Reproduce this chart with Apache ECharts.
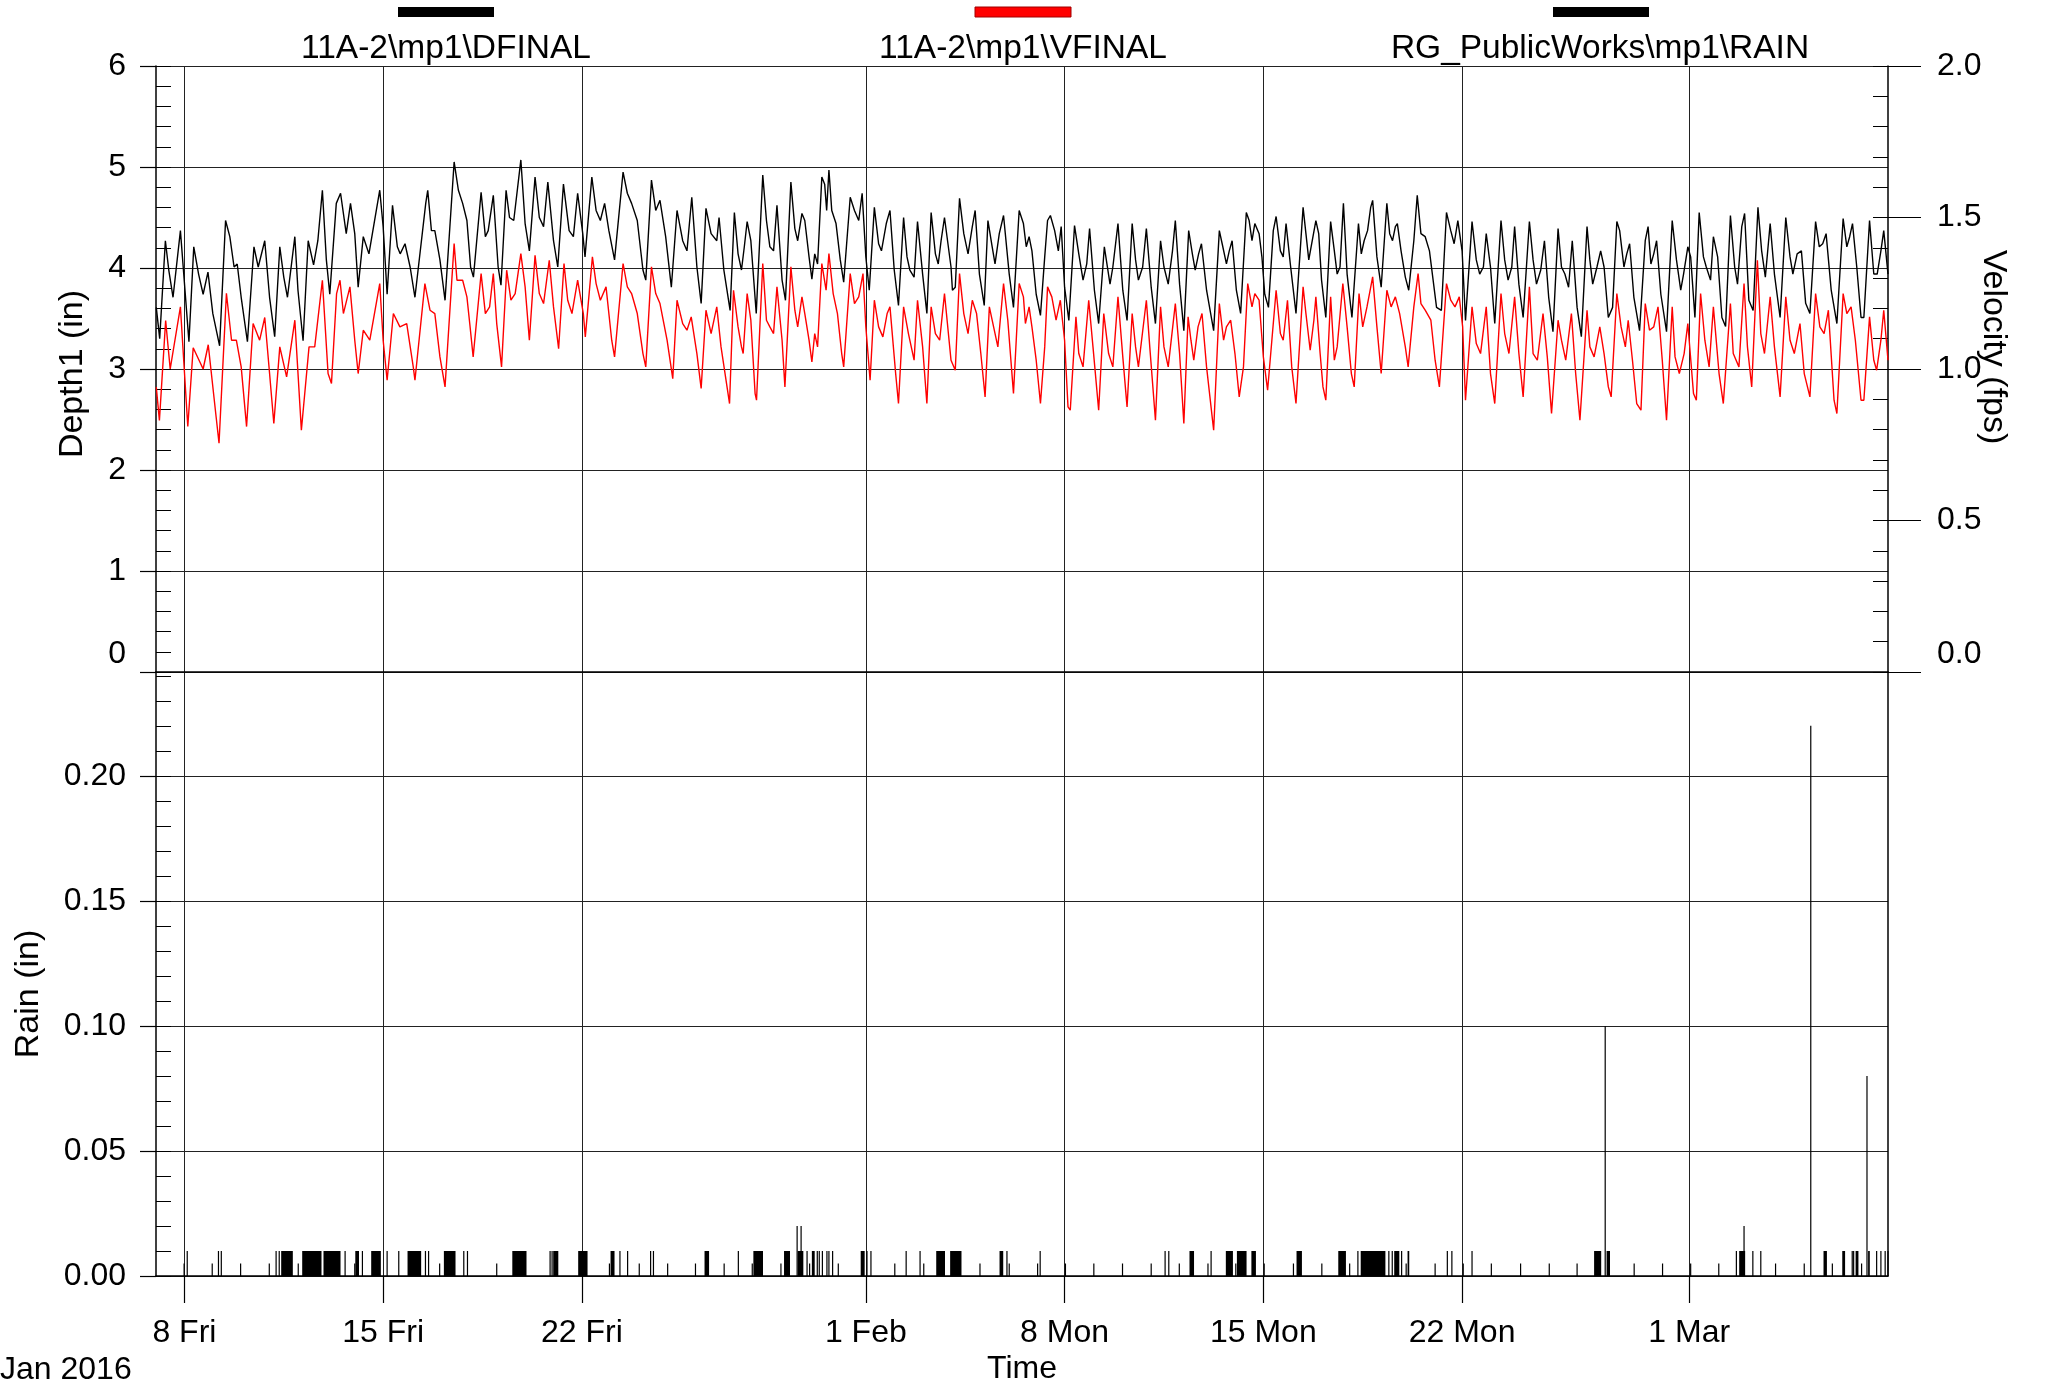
<!DOCTYPE html>
<html>
<head>
<meta charset="utf-8">
<script src="https://cdn.jsdelivr.net/npm/echarts@6/dist/echarts.min.js"></script>
<style>
  html, body { margin: 0; padding: 0; background: #fff; }
  #chart { width: 2049px; height: 1387px; }
</style>
</head>
<body>
<div id="chart"></div>
<script>
// x values are days counted from Jan 7 2016 00:00
const tickDays = [1, 8, 15, 25, 32, 39, 46, 54];
const tickLabels = ['8 Fri', '15 Fri', '22 Fri', '1 Feb', '8 Mon', '15 Mon', '22 Mon', '1 Mar'];

// 11A-2\mp1\DFINAL  [day, depth in]
const depthReadings = [
  [0.01,3.61],[0.13,3.30],[0.33,4.27],[0.45,3.98],[0.6,3.71],[0.86,4.37],[1.16,3.27],[1.33,4.21],[1.5,3.94],[1.66,3.74],
  [1.83,3.96],[2.0,3.55],[2.24,3.23],[2.45,4.47],[2.6,4.31],[2.75,4.01],[2.86,4.04],[3.0,3.71],[3.22,3.27],[3.45,4.21],
  [3.6,4.01],[3.83,4.27],[4.0,3.71],[4.18,3.32],[4.36,4.21],[4.5,3.91],[4.63,3.71],[4.89,4.31],[5.0,3.78],[5.18,3.28],
  [5.36,4.27],[5.55,4.03],[5.7,4.27],[5.86,4.77],[6.0,4.08],[6.12,3.74],[6.35,4.64],[6.5,4.74],[6.7,4.34],[6.85,4.64],
  [7.0,4.34],[7.12,3.81],[7.3,4.31],[7.5,4.14],[7.88,4.77],[8.0,4.41],[8.14,3.74],[8.33,4.62],[8.5,4.21],[8.6,4.14],
  [8.77,4.24],[8.95,4.01],[9.12,3.71],[9.5,4.64],[9.57,4.77],[9.7,4.37],[9.82,4.37],[10.0,4.08],[10.18,3.68],
  [10.5,5.05],[10.65,4.77],[10.8,4.64],[10.95,4.47],[11.08,4.01],[11.18,3.91],[11.45,4.75],[11.6,4.31],[11.7,4.37],[11.88,4.72],
  [12.05,4.01],[12.15,3.83],[12.33,4.77],[12.45,4.5],[12.6,4.47],[12.85,5.07],[13.0,4.44],[13.15,4.17],[13.35,4.9],[13.5,4.5],
  [13.65,4.41],[13.8,4.85],[14.0,4.27],[14.15,4.01],[14.35,4.83],[14.55,4.37],[14.7,4.31],[14.85,4.74],[15.03,4.34],[15.11,4.11],
  [15.35,4.9],[15.5,4.57],[15.65,4.47],[15.8,4.64],[15.95,4.37],[16.15,4.08],[16.45,4.95],[16.6,4.74],[16.75,4.64],[16.95,4.47],
  [17.15,3.98],[17.25,3.88],[17.45,4.87],[17.6,4.57],[17.75,4.67],[17.95,4.31],[18.15,3.81],[18.35,4.57],[18.55,4.27],[18.7,4.17],
  [18.87,4.7],[19.05,4.01],[19.2,3.65],[19.37,4.59],[19.55,4.34],[19.75,4.27],[19.83,4.5],[20.0,3.98],
  [20.22,3.58],[20.37,4.55],[20.5,4.14],[20.62,3.98],[20.72,4.21],[20.82,4.46],[20.95,4.27],[21.14,3.55],[21.37,4.92],[21.5,4.47],
  [21.62,4.21],[21.75,4.17],[21.87,4.62],[22.05,3.88],[22.17,3.68],[22.36,4.85],[22.5,4.39],[22.6,4.27],[22.75,4.54],[22.85,4.47],
  [23.0,4.11],[23.1,3.89],[23.2,4.14],[23.3,4.04],[23.45,4.9],[23.55,4.83],[23.62,4.57],[23.7,4.97],[23.8,4.57],[23.95,4.44],
  [24.1,4.08],[24.22,3.86],[24.45,4.7],[24.6,4.57],[24.75,4.47],[24.87,4.74],[25.0,4.11],[25.12,3.78],[25.3,4.6],[25.45,4.24],
  [25.55,4.17],[25.72,4.44],[25.85,4.57],[26.0,3.98],[26.15,3.63],[26.33,4.5],[26.45,4.11],[26.55,3.98],[26.7,3.91],[26.82,4.46],
  [27.0,3.94],[27.15,3.55],[27.3,4.55],[27.45,4.14],[27.55,4.04],[27.65,4.27],[27.77,4.5],[28.0,4.01],[28.05,3.78],[28.15,3.81],
  [28.3,4.69],[28.45,4.34],[28.6,4.14],[28.75,4.41],[28.85,4.57],[29.0,3.94],[29.17,3.63],[29.3,4.47],[29.45,4.21],[29.55,4.04],
  [29.7,4.34],[29.85,4.52],[30.05,3.94],[30.2,3.61],[30.4,4.57],
  [30.55,4.44],[30.65,4.21],[30.75,4.31],[30.85,4.17],[31.0,3.74],[31.15,3.53],[31.3,4.11],[31.4,4.47],[31.5,4.52],[31.65,4.37],
  [31.78,4.17],[31.88,4.41],[32.0,3.81],[32.15,3.48],[32.35,4.42],[32.5,4.14],[32.65,3.88],[32.78,4.04],[32.88,4.39],[33.05,3.78],
  [33.2,3.45],[33.4,4.21],[33.6,3.84],[33.7,4.01],[33.88,4.44],[34.05,3.78],[34.2,3.48],[34.38,4.44],[34.5,4.08],[34.6,3.88],
  [34.75,4.01],[34.88,4.39],[35.05,3.81],[35.2,3.45],[35.38,4.27],[35.5,4.01],[35.65,3.84],[35.8,4.17],[35.9,4.47],[36.05,3.84],
  [36.2,3.38],[36.37,4.37],[36.5,4.14],[36.6,3.98],[36.72,4.14],[36.82,4.24],[37.0,3.78],[37.25,3.38],[37.45,4.37],[37.55,4.24],
  [37.7,4.04],[37.8,4.17],[37.9,4.27],[38.05,3.78],[38.2,3.55],[38.4,4.55],[38.5,4.47],[38.6,4.27],[38.7,4.44],[38.85,4.34],
  [38.95,4.11],[39.05,3.74],[39.18,3.61],[39.35,4.37],[39.45,4.51],[39.6,4.17],[39.7,4.11],[39.8,4.44],[39.95,4.04],[40.15,3.55],
  [40.4,4.6],[40.5,4.34],[40.6,4.08],
  [40.85,4.47],[40.95,4.34],[41.05,3.88],[41.2,3.51],[41.37,4.46],[41.5,4.17],[41.6,3.94],[41.7,4.01],[41.82,4.64],[41.95,3.94],
  [42.12,3.51],[42.35,4.44],[42.45,4.14],[42.55,4.27],[42.67,4.37],[42.78,4.6],[42.85,4.67],[43.0,4.11],[43.15,3.81],[43.35,4.64],
  [43.45,4.34],[43.55,4.27],[43.65,4.41],[43.72,4.44],[43.85,4.17],[44.0,3.91],[44.12,3.78],[44.3,4.27],[44.42,4.72],[44.55,4.34],
  [44.7,4.31],[44.85,4.17],[45.1,3.61],[45.27,3.58],[45.45,4.55],[45.6,4.37],[45.72,4.24],[45.85,4.47],[46.0,4.17],[46.12,3.48],
  [46.35,4.46],[46.5,4.08],[46.62,3.94],[46.75,4.01],[46.85,4.34],[47.0,4.01],[47.15,3.45],[47.37,4.47],[47.5,4.08],[47.62,3.88],
  [47.75,4.01],[47.85,4.41],[48.0,3.84],[48.15,3.51],[48.37,4.46],[48.5,4.08],[48.62,3.84],[48.77,3.98],[48.9,4.27],[49.05,3.71],
  [49.2,3.37],[49.38,4.39],[49.5,4.01],[49.62,3.94],[49.75,3.81],[49.88,4.27],[50.05,3.61],[50.2,3.32],[50.4,4.41],[50.5,4.08],
  [50.6,3.84],[50.75,4.01],[50.88,4.17],
  [51.0,4.01],[51.15,3.51],[51.3,3.61],[51.45,4.46],[51.55,4.37],[51.7,4.01],[51.8,4.14],[51.9,4.24],[52.05,3.71],[52.25,3.38],
  [52.45,4.27],[52.55,4.41],[52.65,4.04],[52.75,4.14],[52.85,4.27],[53.0,3.74],[53.2,3.37],[53.4,4.47],[53.55,4.08],[53.7,3.78],
  [53.8,3.94],[53.95,4.21],[54.05,4.11],[54.2,3.51],[54.35,4.55],[54.5,4.11],[54.6,4.01],[54.75,3.88],[54.85,4.31],[55.0,4.11],
  [55.15,3.51],[55.28,3.42],[55.45,4.52],[55.6,4.01],[55.7,3.84],[55.85,4.41],[55.95,4.54],[56.1,3.68],[56.25,3.58],[56.42,4.6],
  [56.55,4.17],[56.68,3.91],[56.85,4.44],[57.0,3.94],[57.2,3.51],[57.4,4.5],[57.55,4.11],[57.65,3.94],[57.8,4.14],[57.95,4.17],
  [58.1,3.65],[58.25,3.55],[58.45,4.46],[58.58,4.21],[58.7,4.24],[58.82,4.34],[59.0,3.78],[59.2,3.45],[59.42,4.49],[59.55,4.21],
  [59.65,4.31],[59.75,4.44],[59.9,4.01],[60.05,3.51],[60.15,3.51],[60.35,4.47],[60.5,3.94],[60.62,3.94],[60.75,4.17],[60.85,4.37],
  [61.0,3.94]
];

// 11A-2\mp1\VFINAL  [day, velocity fps]
const velocityReadings = [
  [0.01,0.94],[0.12,0.83],[0.34,1.16],[0.5,1.0],[0.86,1.205],[1.12,0.81],[1.31,1.07],[1.66,1.0],[1.84,1.08],[2.12,0.84],
  [2.22,0.755],[2.48,1.25],[2.66,1.095],[2.83,1.095],[3.0,1.007],[3.19,0.81],[3.42,1.15],[3.65,1.095],[3.83,1.17],[4.0,0.985],
  [4.15,0.82],[4.36,1.073],[4.6,0.974],[4.89,1.161],[5.12,0.798],[5.39,1.073],[5.59,1.073],[5.86,1.293],[6.06,0.985],[6.18,0.952],
  [6.36,1.249],[6.48,1.293],[6.6,1.183],[6.83,1.271],[7.0,1.095],[7.12,0.985],[7.3,1.128],[7.53,1.095],[7.88,1.282],[8.0,1.095],
  [8.14,0.963],[8.36,1.183],[8.59,1.139],[8.83,1.15],[9.06,1.007],[9.12,0.963],[9.47,1.282],[9.65,1.194],[9.82,1.183],[10.0,1.04],
  [10.18,0.941],
  [10.5,1.414],[10.6,1.293],[10.8,1.293],[10.95,1.238],[11.05,1.15],[11.17,1.04],[11.45,1.315],[11.6,1.183],[11.75,1.205],[11.88,1.315],
  [12.0,1.15],[12.17,1.007],[12.35,1.326],[12.5,1.227],[12.65,1.249],[12.85,1.381],[13.0,1.271],[13.15,1.095],[13.35,1.375],[13.5,1.249],
  [13.65,1.216],[13.85,1.359],[14.0,1.205],[14.18,1.067],[14.37,1.348],[14.5,1.227],[14.65,1.183],[14.85,1.293],[15.05,1.183],[15.12,1.106],
  [15.37,1.37],[15.5,1.282],[15.65,1.227],[15.85,1.271],[16.05,1.095],[16.15,1.04],[16.45,1.348],[16.6,1.271],[16.75,1.249],[16.95,1.183],
  [17.15,1.051],[17.25,1.007],[17.45,1.337],[17.6,1.249],[17.75,1.216],[18.0,1.095],[18.2,0.968],[18.35,1.227],[18.55,1.15],[18.7,1.128],
  [18.85,1.172],[19.05,1.051],[19.2,0.936],[19.37,1.194],[19.55,1.117],[19.75,1.205],[19.9,1.073],[20.2,0.886],
  [20.34,1.26],[20.5,1.139],[20.62,1.073],[20.68,1.051],[20.82,1.249],[20.95,1.161],[21.1,0.919],[21.15,0.897],[21.37,1.348],[21.5,1.161],
  [21.62,1.139],[21.75,1.117],[21.87,1.271],[22.05,1.095],[22.15,0.941],[22.36,1.337],[22.5,1.194],[22.6,1.139],[22.75,1.238],[22.85,1.183],
  [23.0,1.095],[23.1,1.023],[23.2,1.117],[23.3,1.073],[23.45,1.348],[23.6,1.26],[23.7,1.381],[23.85,1.249],[24.0,1.183],[24.15,1.051],
  [24.22,1.007],[24.45,1.315],[24.6,1.216],[24.75,1.238],[24.9,1.315],[25.0,1.139],[25.15,0.963],[25.3,1.227],[25.45,1.139],[25.6,1.106],
  [25.75,1.183],[25.85,1.205],[26.05,0.985],[26.15,0.886],[26.33,1.205],[26.5,1.117],[26.7,1.029],[26.82,1.227],[27.0,1.073],[27.15,0.886],
  [27.3,1.205],[27.45,1.117],[27.6,1.095],[27.77,1.249],[28.0,1.029],[28.15,0.996],[28.3,1.315],[28.45,1.183],[28.6,1.117],[28.75,1.227],
  [28.9,1.183],[29.05,1.051],[29.2,0.908],[29.35,1.205],[29.5,1.139],[29.65,1.073],[29.85,1.282],[30.0,1.161],[30.2,0.919],[30.4,1.282],
  [30.55,1.238],[30.62,1.15],[30.75,1.205],[30.85,1.139],[31.0,1.029],[31.15,0.886],[31.3,1.073],[31.4,1.271],[31.55,1.238],[31.7,1.161],
  [31.85,1.227],[32.0,1.095],[32.12,0.875],[32.2,0.864],[32.4,1.172],[32.5,1.051],[32.65,1.007],[32.85,1.227],[33.0,1.073],[33.2,0.864],
  [33.38,1.183],[33.55,1.051],[33.7,1.007],[33.88,1.238],[34.05,1.04],[34.2,0.875],[34.38,1.183],[34.5,1.073],[34.6,1.007],[34.88,1.227],
  [35.0,1.073],[35.2,0.831],[35.38,1.205],[35.5,1.073],[35.65,1.007],[35.9,1.216],[36.05,1.051],[36.2,0.82],[36.35,1.172],[36.45,1.095],
  [36.55,1.029],[36.7,1.139],[36.84,1.183],[37.0,1.007],[37.25,0.798],[37.45,1.216],[37.6,1.095],[37.7,1.139],[37.85,1.161],[38.0,1.051],
  [38.15,0.908],[38.3,1.007],[38.45,1.282],[38.6,1.205],[38.7,1.249],[38.85,1.227],[39.0,1.04],[39.15,0.93],[39.3,1.095],[39.45,1.26],
  [39.6,1.117],[39.7,1.095],[39.85,1.227],[40.0,1.007],[40.15,0.886],[40.4,1.271],[40.5,1.183],[40.65,1.062],
  [40.78,1.161],[40.85,1.238],[41.0,1.051],[41.1,0.941],[41.2,0.897],[41.37,1.238],[41.5,1.029],[41.6,1.073],[41.8,1.282],[41.95,1.139],
  [42.1,0.985],[42.2,0.941],[42.37,1.249],[42.5,1.139],[42.65,1.205],[42.85,1.304],[43.0,1.139],[43.15,0.985],[43.35,1.26],[43.5,1.205],
  [43.65,1.238],[43.8,1.183],[44.0,1.073],[44.1,1.007],[44.3,1.205],[44.45,1.315],[44.55,1.216],[44.7,1.194],[44.9,1.161],[45.05,1.029],
  [45.2,0.941],[45.45,1.282],[45.6,1.227],[45.75,1.205],[45.9,1.238],[46.02,1.139],[46.12,0.897],[46.35,1.205],[46.5,1.084],[46.65,1.051],
  [46.85,1.205],[47.0,0.985],[47.15,0.886],[47.37,1.249],[47.5,1.117],[47.65,1.051],[47.85,1.238],[48.0,1.051],[48.15,0.908],[48.37,1.271],
  [48.5,1.051],[48.65,1.029],[48.85,1.183],[49.0,1.04],[49.15,0.853],[49.38,1.161],[49.5,1.095],[49.65,1.029],[49.85,1.183],[50.0,0.985],
  [50.15,0.831],[50.4,1.194],[50.5,1.073],[50.65,1.04],[50.85,1.139],
  [51.0,1.051],[51.15,0.941],[51.25,0.908],[51.45,1.249],[51.6,1.139],[51.75,1.073],[51.85,1.161],[52.0,1.029],[52.15,0.886],[52.3,0.864],
  [52.45,1.216],[52.6,1.128],[52.75,1.139],[52.9,1.205],[53.05,1.029],[53.2,0.831],[53.4,1.205],[53.5,1.04],[53.65,0.985],[53.82,1.051],
  [53.95,1.15],[54.15,0.919],[54.25,0.897],[54.4,1.249],[54.55,1.095],[54.7,1.007],[54.85,1.205],[55.05,0.985],[55.2,0.886],[55.45,1.216],
  [55.55,1.051],[55.75,1.007],[55.93,1.282],[56.05,1.073],[56.2,0.941],[56.4,1.359],[56.52,1.117],[56.65,1.051],[56.85,1.238],[57.0,1.073],
  [57.2,0.908],[57.4,1.238],[57.55,1.095],[57.7,1.051],[57.9,1.15],[58.05,0.985],[58.25,0.908],[58.45,1.249],[58.6,1.139],[58.75,1.117],
  [58.9,1.194],[59.1,0.897],[59.2,0.853],[59.42,1.249],[59.55,1.183],[59.7,1.205],[59.85,1.095],[60.05,0.897],[60.15,0.897],[60.35,1.172],
  [60.5,1.029],[60.6,0.996],[60.75,1.095],[60.85,1.194],[61.0,1.029]
];

// RG_PublicWorks\mp1\RAIN  [start day, end day, inches]
const rainEvents = [
  [0.99,0.99,0.005],[1.10,1.10,0.01],[1.98,1.98,0.005],[2.2,2.2,0.01],[2.3,2.3,0.01],[2.98,2.98,0.005],[3.99,3.99,0.005],
  [4.23,4.23,0.01],[4.34,4.34,0.01],[4.43,4.84,0.01],[5.01,5.01,0.005],[5.17,5.85,0.01],[5.92,6.52,0.01],[6.66,6.66,0.01],
  [7.0,7.0,0.005],[7.04,7.17,0.01],[7.27,7.27,0.01],[7.6,7.94,0.01],[8.14,8.14,0.01],[8.55,8.55,0.01],[8.88,9.36,0.01],
  [9.49,9.49,0.01],[9.6,9.6,0.01],[9.99,9.99,0.005],[10.16,10.57,0.01],[10.84,10.84,0.01],[10.97,10.97,0.01],[12.0,12.0,0.005],
  [12.57,13.07,0.01],[13.88,13.88,0.01],[13.95,13.95,0.01],[14.01,14.19,0.01],[14.89,15.22,0.01],[15.97,15.97,0.005],
  [16.03,16.17,0.01],[16.34,16.34,0.01],[16.61,16.61,0.01],[17.02,17.02,0.005],[17.42,17.42,0.01],[17.52,17.52,0.01],
  [18.02,18.02,0.005],[19.0,19.0,0.005],[19.34,19.5,0.01],[20.01,20.01,0.005],[20.51,20.51,0.01],
  [21.0,21.0,0.005],[21.06,21.4,0.01],[22.01,22.01,0.005],[22.14,22.35,0.01],[22.58,22.58,0.02],[22.62,22.82,0.01],
  [22.72,22.72,0.02],[22.93,22.93,0.01],[23.02,23.02,0.005],[23.12,23.22,0.01],[23.29,23.29,0.01],[23.36,23.36,0.01],
  [23.47,23.47,0.01],[23.63,23.63,0.01],[23.7,23.7,0.01],[23.83,23.83,0.01],[24.03,24.03,0.005],[24.84,24.98,0.01],
  [25.04,25.04,0.01],[25.18,25.18,0.01],[26.02,26.02,0.005],[26.42,26.42,0.01],[26.91,26.91,0.01],[27.04,27.04,0.005],
  [27.5,27.81,0.01],[27.99,28.39,0.01],[29.02,29.02,0.005],[29.73,29.86,0.01],[29.97,29.97,0.01],[30.05,30.05,0.005],
  [31.05,31.05,0.005],[31.14,31.14,0.01],[32.03,32.03,0.005],[33.03,33.03,0.005],[34.04,34.04,0.005],[35.05,35.05,0.005],
  [35.54,35.54,0.01],[35.67,35.67,0.01],[36.04,36.04,0.005],[36.42,36.58,0.01],[37.05,37.05,0.005],[37.16,37.16,0.01],
  [37.7,37.95,0.01],[38.03,38.03,0.005],[38.09,38.43,0.01],[38.6,38.76,0.01],[39.03,39.03,0.005],[40.06,40.06,0.005],
  [40.19,40.38,0.01],[41.06,41.06,0.005],[41.66,41.93,0.01],[42.04,42.04,0.005],
  [42.33,42.33,0.01],[42.45,43.32,0.01],[43.42,43.42,0.01],[43.54,43.54,0.01],[43.63,43.81,0.01],[43.87,43.87,0.01],
  [44.03,44.03,0.005],[44.1,44.16,0.01],[45.05,45.05,0.005],[45.48,45.48,0.01],[45.64,45.64,0.01],[46.04,46.04,0.005],
  [46.35,46.35,0.01],[47.03,47.03,0.005],[48.06,48.06,0.005],[49.07,49.07,0.005],[50.05,50.05,0.005],[50.67,50.92,0.01],
  [51.04,51.04,0.10],[51.11,51.23,0.01],[52.06,52.06,0.005],[53.06,53.06,0.005],[54.05,54.05,0.005],[55.04,55.04,0.005],
  [55.66,55.66,0.01],[55.78,55.99,0.01],[55.93,55.93,0.02],[56.24,56.24,0.01],[56.52,56.52,0.01],[57.04,57.04,0.005],
  [58.05,58.05,0.005],[58.28,58.28,0.22],[58.75,58.87,0.01],[59.04,59.04,0.005],[59.41,59.51,0.01],[59.74,59.74,0.01],
  [59.79,59.79,0.01],[59.88,59.98,0.01],[60.07,60.07,0.005],[60.26,60.26,0.08],[60.32,60.38,0.01],[60.6,60.6,0.01],
  [60.75,60.75,0.01],[60.9,60.9,0.01],[61.0,61.0,0.01]
];

const FONT = '"Liberation Sans", Arial, sans-serif';
const RAIN_MAX = 0.2415;

const chart = echarts.init(document.getElementById('chart'), null, {renderer: 'canvas'});

function tickLabel(val) {
    const i = tickDays.findIndex(d => Math.abs(d - val) < 1e-6);
    return i >= 0 ? tickLabels[i] : '';
}

function dayAxis(gridIndex, withLabels) {
    return {
        type: 'value',
        gridIndex: gridIndex,
        min: 0,
        max: 61,
        name: withLabels ? 'Time' : '',
        nameLocation: 'middle',
        nameGap: 77,
        nameMoveOverlap: false,
        nameTextStyle: {fontSize: 32, color: '#000', fontFamily: FONT},
        axisLine: {onZero: false, lineStyle: {color: '#000', width: 1.5}},
        axisTick: {show: withLabels, customValues: tickDays, length: 27, lineStyle: {color: '#000', width: 1.2}},
        axisLabel: {show: withLabels, customValues: tickDays, formatter: tickLabel, margin: 41,
            fontSize: 32, color: '#000', fontFamily: FONT},
        splitLine: {show: true, lineStyle: {color: '#222', width: 1}}
    };
}

// inner (minor) tick axis, no labels
function innerTicks(gridIndex, position, max, interval) {
    return {
        type: 'value', gridIndex: gridIndex, position: position, min: 0, max: max, interval: interval,
        axisLine: {show: false},
        axisTick: {show: true, inside: true, length: 15, lineStyle: {color: '#000', width: 1}},
        axisLabel: {show: false},
        splitLine: {show: false}
    };
}

const labelStyle = {fontSize: 32, color: '#000', fontFamily: FONT};
const lowLabel = {lo: {padding: [0, 0, 36, 0], fontSize: 32, color: '#000', fontFamily: FONT}};
const titleStyle = {fontSize: 34, color: '#000', fontFamily: FONT};

const option = {
    animation: false,
    backgroundColor: '#fff',
    textStyle: {fontFamily: FONT},
    grid: [
        {left: 156, right: 161, top: 66, height: 606},
        {left: 156, right: 161, top: 672, height: 604}
    ],
    xAxis: [dayAxis(0, false), dayAxis(1, true)],
    yAxis: [
        {
            type: 'value', gridIndex: 0, position: 'left', min: 0, max: 6, interval: 1,
            name: 'Depth1 (in)', nameLocation: 'middle', nameGap: 66, nameRotate: 90, nameMoveOverlap: false,
            nameTextStyle: Object.assign({padding: [0, 10, 0, 0]}, titleStyle),
            axisLine: {show: true, lineStyle: {color: '#000', width: 1.5}},
            axisTick: {show: true, inside: false, length: 16, lineStyle: {color: '#000', width: 1.2}},
            axisLabel: Object.assign({margin: 30, rich: lowLabel,
                formatter: v => v === 0 ? '{lo|0}' : String(v)}, labelStyle),
            splitLine: {show: true, lineStyle: {color: '#222', width: 1}}
        },
        {
            type: 'value', gridIndex: 0, position: 'right', min: 0, max: 2, interval: 0.5,
            name: 'Velocity (fps)', nameLocation: 'middle', nameGap: 88, nameRotate: -90, nameMoveOverlap: false,
            nameTextStyle: Object.assign({padding: [0, 44, 0, 0]}, titleStyle),
            axisLine: {show: true, lineStyle: {color: '#000', width: 1.5}},
            axisTick: {show: true, inside: false, length: 33, lineStyle: {color: '#000', width: 1.2}},
            axisLabel: Object.assign({margin: 49, rich: lowLabel,
                formatter: v => v === 0 ? '{lo|0.0}' : v.toFixed(1)}, labelStyle),
            splitLine: {show: false}
        },
        innerTicks(0, 'left', 6, 0.2),
        innerTicks(0, 'right', 2, 0.1),
        {
            type: 'value', gridIndex: 1, position: 'left', min: 0, max: RAIN_MAX, interval: 0.05,
            name: 'Rain (in)', nameLocation: 'middle', nameGap: 110, nameRotate: 90, nameMoveOverlap: false,
            nameTextStyle: Object.assign({padding: [0, 40, 0, 0]}, titleStyle),
            axisLine: {show: true, lineStyle: {color: '#000', width: 1.5}},
            axisTick: {show: true, inside: false, length: 16, lineStyle: {color: '#000', width: 1.2}},
            axisLabel: Object.assign({margin: 30, showMaxLabel: false,
                formatter: v => v.toFixed(2)}, labelStyle),
            splitLine: {show: true, lineStyle: {color: '#222', width: 1}}
        },
        innerTicks(1, 'left', RAIN_MAX, 0.01),
        {
            type: 'value', gridIndex: 1, position: 'right', min: 0, max: RAIN_MAX,
            axisLine: {show: true, lineStyle: {color: '#000', width: 1.5}},
            axisTick: {show: false}, axisLabel: {show: false}, splitLine: {show: false}
        }
    ],
    graphic: [
        {type: 'rect', shape: {x: 398, y: 7, width: 96, height: 10}, style: {fill: '#000'}},
        {type: 'text', x: 446, y: 49, style: {text: '11A-2\\mp1\\DFINAL', align: 'center', verticalAlign: 'middle',
            fontSize: 33.5, fill: '#000', fontFamily: FONT}},
        {type: 'rect', shape: {x: 975, y: 7, width: 96, height: 10}, style: {fill: '#ff0000', stroke: '#a00000', lineWidth: 1}},
        {type: 'text', x: 1023, y: 49, style: {text: '11A-2\\mp1\\VFINAL', align: 'center', verticalAlign: 'middle',
            fontSize: 33.5, fill: '#000', fontFamily: FONT}},
        {type: 'rect', shape: {x: 1553, y: 7, width: 96, height: 10}, style: {fill: '#000'}},
        {type: 'text', x: 1600, y: 49, style: {text: 'RG_PublicWorks\\mp1\\RAIN', align: 'center', verticalAlign: 'middle',
            fontSize: 33.5, fill: '#000', fontFamily: FONT}},
        {type: 'text', x: 0, y: 1370, style: {text: 'Jan 2016', align: 'left', verticalAlign: 'middle',
            fontSize: 32, fill: '#000', fontFamily: FONT}}
    ],
    series: [
        {
            name: '11A-2\\mp1\\VFINAL', type: 'line', xAxisIndex: 0, yAxisIndex: 1,
            data: velocityReadings,
            showSymbol: false, lineStyle: {color: '#ff0000', width: 1.4}, itemStyle: {color: '#ff0000'}
        },
        {
            name: '11A-2\\mp1\\DFINAL', type: 'line', xAxisIndex: 0, yAxisIndex: 0,
            data: depthReadings,
            showSymbol: false, lineStyle: {color: '#000', width: 1.4}, itemStyle: {color: '#000'}
        },
        {
            name: 'RG_PublicWorks\\mp1\\RAIN', type: 'custom', xAxisIndex: 1, yAxisIndex: 4,
            encode: {x: [0, 1], y: 2},
            data: rainEvents,
            renderItem: function (params, api) {
                const top = api.coord([api.value(0), api.value(2)]);
                const bot = api.coord([api.value(1), 0]);
                const w = Math.max(bot[0] - top[0], 1.2);
                return {
                    type: 'rect',
                    shape: {x: top[0] - 0.6, y: top[1], width: w, height: bot[1] - top[1]},
                    style: {fill: '#000'}
                };
            }
        }
    ]
};

chart.setOption(option);
</script>
</body>
</html>
